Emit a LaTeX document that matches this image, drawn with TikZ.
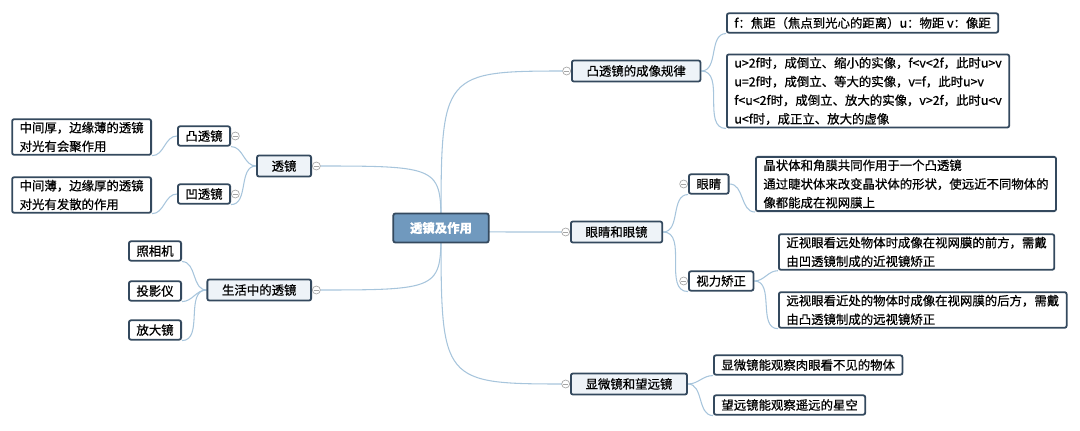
\documentclass[tikz,border=0pt]{standalone}
\usepackage{fontspec}
\setmainfont{Noto Sans CJK SC}[FakeBold=0.6]
\usetikzlibrary{backgrounds}
\definecolor{edge}{HTML}{A7C5DC}
\definecolor{rim}{HTML}{34495E}
\definecolor{hub}{HTML}{7099BE}
\definecolor{branchbg}{HTML}{EEF3F8}
\tikzset{
  topic/.style={draw=rim, line width=1.35pt, rounded corners=1.5pt, align=left,
    font=\fontsize{9.3}{14}\selectfont},
  central/.style={topic, fill=hub, text=white, font=\fontsize{9.3}{14}\selectfont\bfseries,
    inner xsep=12.5pt, minimum height=21.75pt},
  branch/.style={topic, fill=branchbg, inner xsep=11pt, minimum height=15.75pt},
  leaf/.style={topic, fill=white, inner xsep=5.6pt, inner ysep=2pt, minimum height=14.5pt},
  link/.style={draw=edge, line width=0.8pt},
  fold/.style={circle, draw=gray!70, fill=white, line width=0.5pt, inner sep=0pt, minimum size=6pt,
    path picture={\draw[gray!70, line width=0.5pt] ([xshift=1pt]path picture bounding box.west) -- ([xshift=-1pt]path picture bounding box.east);}}
}
\begin{document}
\begin{tikzpicture}[x=0.75pt, y=-0.75pt]
  \useasboundingbox (0,0) rectangle (1080,431);
  \node[central] (hub) at (441,228) {透镜及作用};
  \node[branch, anchor=west] (rule) at (571,71) {凸透镜的成像规律};
  \node[branch, anchor=west] (eye) at (570,232) {眼睛和眼镜};
  \node[branch, anchor=west] (instr) at (570,384) {显微镜和望远镜};
  \node[branch, anchor=east] (lens) at (312,166) {透镜};
  \node[branch, anchor=east] (life) at (312,290) {生活中的透镜};

  \node[leaf, anchor=west] (sym) at (726,23) {f：焦距（焦点到光心的距离）u：物距 v：像距};
  \node[leaf, anchor=west] (law) at (726,91) {u>2f时，成倒立、缩小的实像，f<v<2f，此时u>v\\u=2f时，成倒立、等大的实像，v=f，此时u>v\\f<u<2f时，成倒立、放大的实像，v>2f，此时u<v\\u<f时，成正立、放大的虚像};
  \node[leaf, anchor=west] (eyeball) at (688,184) {眼睛};
  \node[leaf, anchor=west] (fix) at (688,281) {视力矫正};
  \node[leaf, anchor=west] (eyetxt) at (755,184) {晶状体和角膜共同作用于一个凸透镜\\通过睫状体来改变晶状体的形状，使远近不同物体的\\像都能成在视网膜上};
  \node[leaf, anchor=west] (near) at (778,252) {近视眼看远处物体时成像在视网膜的前方，需戴\\由凹透镜制成的近视镜矫正};
  \node[leaf, anchor=west] (far) at (778,310) {远视眼看近处的物体时成像在视网膜的后方，需戴\\由凸透镜制成的远视镜矫正};
  \node[leaf, anchor=west] (micro) at (713,365) {显微镜能观察肉眼看不见的物体};
  \node[leaf, anchor=west] (tele) at (713,405) {望远镜能观察遥远的星空};

  \node[leaf, anchor=east] (convex) at (231,136) {凸透镜};
  \node[leaf, anchor=east] (concave) at (231,194) {凹透镜};
  \node[leaf, anchor=east] (convextxt) at (152,137) {中间厚，边缘薄的透镜\\对光有会聚作用};
  \node[leaf, anchor=east] (concavetxt) at (152,195) {中间薄，边缘厚的透镜\\对光有发散的作用};
  \node[leaf, anchor=east] (camera) at (182,251) {照相机};
  \node[leaf, anchor=east] (projector) at (182,291) {投影仪};
  \node[leaf, anchor=east] (magnifier) at (182,330) {放大镜};

  \begin{scope}[on background layer]
    \foreach \b in {rule,eye,instr}
      \draw[link] (hub.center) .. controls (hub.center |- \b.west) .. (\b.west);
    \foreach \b in {lens,life}
      \draw[link] (hub.center) .. controls (hub.center |- \b.east) .. (\b.east);
    \foreach \p/\c in {rule/sym,rule/law,eye/eyeball,eye/fix,eyeball/eyetxt,fix/near,fix/far,instr/micro,instr/tele}
      \draw[link] (\p.east) to[out=0,in=180] (\c.south west);
    \foreach \p/\c in {lens/convex,lens/concave,convex/convextxt,concave/concavetxt,life/camera,life/projector,life/magnifier}
      \draw[link] (\p.west) to[out=180,in=0] (\c.south east);
  \end{scope}

  \foreach \b in {rule,eye,instr,eyeball,fix}
    \node[fold, anchor=east] (\b-fold) at (\b.west) {};
  \foreach \b in {lens,life,convex,concave}
    \node[fold, anchor=west] (\b-fold) at (\b.east) {};
\end{tikzpicture}
\end{document}
